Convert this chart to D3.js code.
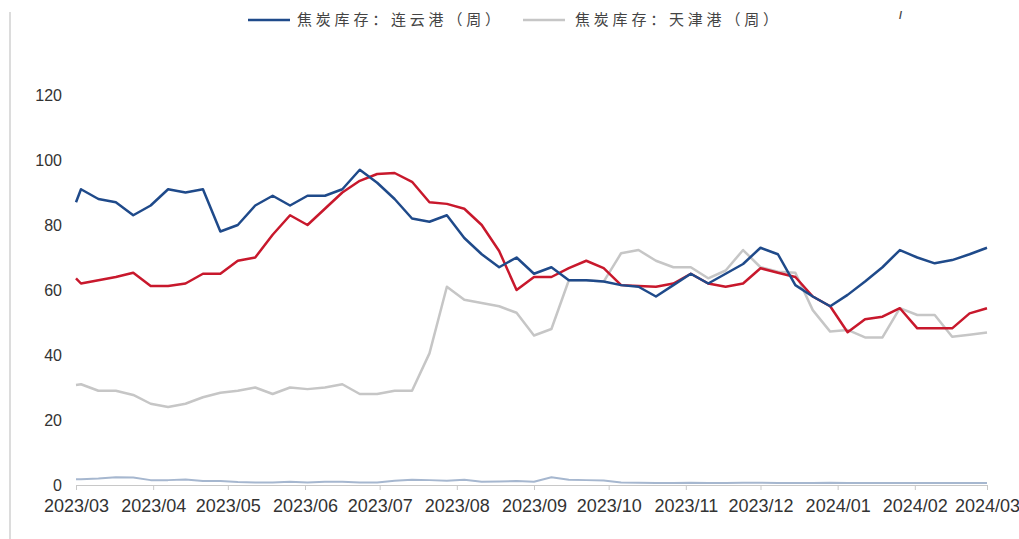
<!DOCTYPE html>
<html>
<head>
<meta charset="utf-8">
<script src="https://cdn.jsdelivr.net/npm/d3@7/dist/d3.min.js"></script>
<style>
  html, body { margin: 0; padding: 0; background: #fff; }
  svg { display: block; }
</style>
</head>
<body>
<svg id="chart" width="1019" height="539"></svg>
<script>
const dates = [
  "2023-03-01","2023-03-03","2023-03-10","2023-03-17","2023-03-24","2023-03-31",
  "2023-04-07","2023-04-14","2023-04-21","2023-04-28",
  "2023-05-05","2023-05-12","2023-05-19","2023-05-26",
  "2023-06-02","2023-06-09","2023-06-16","2023-06-23","2023-06-30",
  "2023-07-07","2023-07-14","2023-07-21","2023-07-28",
  "2023-08-04","2023-08-11","2023-08-18","2023-08-25",
  "2023-09-01","2023-09-08","2023-09-15","2023-09-22","2023-09-29",
  "2023-10-06","2023-10-13","2023-10-20","2023-10-27",
  "2023-11-03","2023-11-10","2023-11-17","2023-11-24",
  "2023-12-01","2023-12-08","2023-12-15","2023-12-22","2023-12-29",
  "2024-01-05","2024-01-12","2024-01-19","2024-01-26",
  "2024-02-02","2024-02-09","2024-02-16","2024-02-23",
  "2024-03-01"
];

// 焦炭库存：连云港（周）
const lianyungang = [
  87,91,88,87,83,86,
  91,90,91,78,
  80,86,89,86,
  89,89,91,97,93,
  88,82,81,83,
  76,71,67,70,
  65,67,63,63,62.6,
  61.5,61,58,61.5,
  65,62,65,68,
  73,71,61.5,58,55,
  58.5,62.6,67,72.3,
  70,68.2,69.2,71,
  73
];

// 焦炭库存：天津港（周）
const tianjin = [
  30.8,31,29,29,27.7,25,
  24,25,27,28.4,
  29,30,28,30,
  29.5,30,31,28,28,
  29,29,40.5,61,
  57,56,55,53,
  46,48,63,63,62.6,
  71.3,72.3,69,67,
  67,63.6,66,72.3,
  67,65.6,65.3,53.8,47.2,
  47.7,45.4,45.4,54.4,
  52.3,52.3,45.6,46.2,
  46.9
];

// red series (legend entry not shown)
const redSeries = [
  63.6,62,63,64,65.3,61.2,
  61.2,62,65,65,
  69,70,77,83,
  80,85,90,93.6,95.7,
  96,93.3,87,86.5,
  85,80,72,60,
  64,64,66.7,69,66.7,
  61.5,61.2,61,62,
  65,62,61,62,
  66.7,65.3,64,58,55,
  47,51,51.8,54.4,
  48.2,48.2,48.2,52.8,
  54.4
];

// light blue series near zero (legend entry not shown)
const lightSeries = [
  1.8,1.8,2.0,2.4,2.3,1.5,
  1.5,1.7,1.2,1.2,
  0.9,0.8,0.8,1.0,
  0.8,1.0,1.0,0.8,0.8,
  1.3,1.6,1.5,1.3,
  1.6,1.0,1.1,1.2,
  1.0,2.4,1.6,1.5,1.4,
  0.8,0.7,0.6,0.6,
  0.7,0.6,0.6,0.7,
  0.7,0.6,0.6,0.6,0.7,
  0.6,0.6,0.6,0.6,
  0.6,0.6,0.6,0.6,
  0.6
];

const xTickLabels = ["2023/03","2023/04","2023/05","2023/06","2023/07","2023/08","2023/09",
                     "2023/10","2023/11","2023/12","2024/01","2024/02","2024/03"];
const yTicks = [0,20,40,60,80,100,120];
const legendNames = ["焦炭库存：连云港（周）", "焦炭库存：天津港（周）"];

const parse = d3.timeParse("%Y-%m-%d");
const dts = dates.map(parse);

const svg = d3.select("#chart");

const x = d3.scaleTime()
  .domain([parse("2023-03-01"), parse("2024-03-01")])
  .range([76, 987]);
const y = d3.scaleLinear().domain([0, 120]).range([485, 95]);

// left frame line
svg.append("line")
  .attr("x1", 10).attr("x2", 10).attr("y1", 12).attr("y2", 539)
  .attr("stroke", "#dcdcdc").attr("stroke-width", 2);

// y axis labels
svg.append("g").selectAll("text").data(yTicks).join("text")
  .attr("x", 62).attr("y", d => y(d))
  .attr("dy", "0.36em")
  .attr("text-anchor", "end")
  .attr("font-family", "'Liberation Sans', Arial, sans-serif")
  .attr("font-size", 16)
  .attr("fill", "#333")
  .text(d => d);

// x axis
const monthTicks = d3.timeMonth.range(parse("2023-03-01"), parse("2024-03-02"));
const xAxis = d3.axisBottom(x)
  .tickValues(monthTicks)
  .tickSize(5)
  .tickFormat((d, i) => xTickLabels[i]);
const gx = svg.append("g").attr("transform", "translate(0,485)").call(xAxis);
gx.select(".domain").attr("stroke", "#c8c8c8").attr("stroke-width", 1);
gx.selectAll(".tick line").attr("stroke", "#c8c8c8");
gx.selectAll(".tick text")
  .attr("y", 14)
  .attr("font-family", "'Liberation Sans', Arial, sans-serif")
  .attr("font-size", 18)
  .attr("fill", "#333");

// lines
const line = d3.line()
  .x((d, i) => x(dts[i]))
  .y(d => y(d));

const series = [
  { values: lightSeries, color: "#a6b7cf", width: 2 },
  { values: tianjin, color: "#c6c6c6", width: 2.5 },
  { values: redSeries, color: "#c8182c", width: 2.5 },
  { values: lianyungang, color: "#1f4a8a", width: 2.5 }
];

svg.append("g").selectAll("path").data(series).join("path")
  .attr("d", d => line(d.values))
  .attr("fill", "none")
  .attr("stroke", d => d.color)
  .attr("stroke-width", d => d.width)
  .attr("stroke-linejoin", "round");

// legend
const legendItems = [
  { name: legendNames[0], color: "#1f4a8a", lx: 248, tx: 297 },
  { name: legendNames[1], color: "#c6c6c6", lx: 523, tx: 575 }
];
const lg = svg.append("g");
legendItems.forEach(it => {
  lg.append("line")
    .attr("x1", it.lx).attr("x2", it.lx + 42)
    .attr("y1", 20).attr("y2", 20)
    .attr("stroke", it.color).attr("stroke-width", 2.5);
  lg.append("text")
    .attr("x", it.tx).attr("y", 20)
    .attr("dy", "0.35em")
    .attr("font-family", "'Noto Sans CJK SC', sans-serif")
    .attr("font-size", 15)
    .attr("letter-spacing", "3.8px")
    .attr("fill", "#444")
    .text(it.name);
});

// small cropped mark at top right
svg.append("text")
  .attr("x", 899).attr("y", 19)
  .attr("font-family", "'Liberation Sans', Arial, sans-serif")
  .attr("font-size", 11)
  .attr("font-weight", "bold")
  .attr("fill", "#444")
  .text("/");
</script>
</body>
</html>
